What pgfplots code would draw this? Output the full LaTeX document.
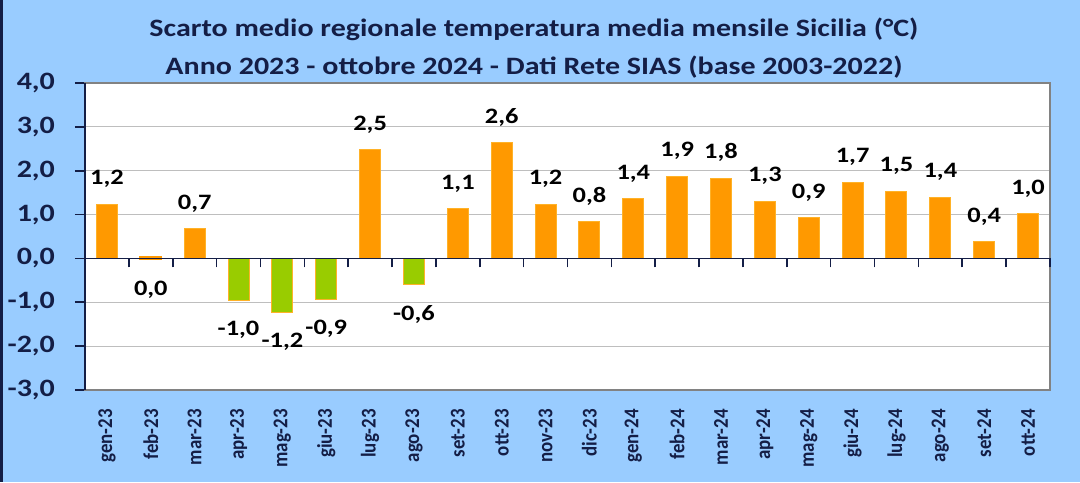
\documentclass[border=0pt]{standalone}
\usepackage{fontspec}
\setmainfont{Carlito}[FakeStretch=1.2]
\newfontfamily\xfont{Carlito}[FakeStretch=0.9]
\usepackage{pgfplots}
\pgfplotsset{compat=1.18}
\usepackage{pgfplotstable}
\definecolor{bg}{RGB}{153,204,255}
\definecolor{barorange}{RGB}{255,153,0}
\definecolor{edgeorange}{RGB}{255,178,40}
\definecolor{bargreen}{RGB}{153,204,0}
\definecolor{navy}{RGB}{20,30,70}
\definecolor{gridgray}{RGB}{190,190,190}
\definecolor{framegray}{RGB}{130,130,130}
\pgfplotstableread{
x y
0 1.24
2 0.68
6 2.48
8 1.13
9 2.64
10 1.24
11 0.84
12 1.36
13 1.87
14 1.83
15 1.30
16 0.93
17 1.74
18 1.53
19 1.40
20 0.38
21 1.02
}\pos
\pgfplotstableread{
x y
3 -0.97
4 -1.23
5 -0.93
7 -0.60
}\neg
\pgfplotstableread{
x y
1 0.02
}\zero
\begin{document}
\begin{tikzpicture}
\fill[bg] (0,0) rectangle (540pt,241pt);
\useasboundingbox (0,0) rectangle (540pt,241pt);
\fill[navy] (0,0) rectangle (1.5pt,241pt);
\node[font=\bfseries\fontsize{12.5}{15}\selectfont, text=navy] at (267pt,226.5pt) {Scarto medio regionale temperatura media mensile Sicilia (°C)};
\node[font=\bfseries\fontsize{12.5}{15}\selectfont, text=navy] at (267pt,207.5pt) {Anno 2023 - ottobre 2024 - Dati Rete SIAS (base 2003-2022)};
\begin{axis}[
  at={(42.5pt,46pt)}, anchor=south west,
  scale only axis, width=482.5pt, height=153.5pt,
  xmin=-0.5, xmax=21.5, ymin=-3, ymax=4,
  axis background/.style={fill=white},
  axis line style={draw=framegray, line width=0.8pt},
  ytick={-3,-2,-1,0,1,2,3,4},
  ytick pos=left, tick align=outside,
  major tick length=5pt,
  y tick style={navy, line width=0.8pt},
  ymajorgrids, grid style={gridgray, line width=0.6pt},
  yticklabel style={font=\bfseries\fontsize{12.5}{14}\selectfont, text=navy, xshift=-6.5pt},
  /pgf/number format/.cd, fixed, fixed zerofill, precision=1, use comma, assume math mode=true,
  /pgfplots/.cd,
  xtick={0,...,21},
  xticklabels={gen-23,feb-23,mar-23,apr-23,mag-23,giu-23,lug-23,ago-23,set-23,ott-23,nov-23,dic-23,gen-24,feb-24,mar-24,apr-24,mag-24,giu-24,lug-24,ago-24,set-24,ott-24},
  x tick style={draw=none},
  xticklabel style={rotate=90, anchor=east, font=\xfont\bfseries\fontsize{10.5}{12}\selectfont, text=navy, xshift=-1pt},
  ybar, bar width=10.5pt, bar shift=0pt,
  clip=false,
]
\addplot[fill=barorange, draw=edgeorange, line width=0.5pt,
  nodes near coords,
  every node near coord/.append style={font=\bfseries\fontsize{11}{13}\selectfont, text=black, anchor=south, inner sep=1pt, yshift=7pt}]
  table[x=x,y=y]{\pos};
\addplot[fill=bargreen, draw=edgeorange, line width=0.5pt,
  nodes near coords,
  every node near coord/.append style={font=\bfseries\fontsize{11}{13}\selectfont, text=black, anchor=north, inner sep=1pt, yshift=-9pt}]
  table[x=x,y=y]{\neg};
\addplot[fill=barorange, draw=barorange, line width=1.2pt,
  nodes near coords,
  every node near coord/.append style={font=\bfseries\fontsize{11}{13}\selectfont, text=black, anchor=north, inner sep=1pt, yshift=-10pt}]
  table[x=x,y=y]{\zero};
\draw[navy, line width=0.9pt] (axis cs:-0.5,-3) -- (axis cs:-0.5,4);
\end{axis}
\begin{axis}[
  at={(42.5pt,111.786pt)}, anchor=south west,
  scale only axis, width=482.5pt, height=87.714pt,
  xmin=-0.5, xmax=21.5, ymin=0, ymax=4,
  axis y line=none, axis x line*=bottom,
  x axis line style={navy, line width=0.8pt, -},
  xtick={0.5,1.5,...,21.5}, xticklabels={},
  tick align=outside, major tick length=4.5pt,
  every tick/.style={navy, line width=0.8pt},
]
\end{axis}
\end{tikzpicture}
\end{document}
